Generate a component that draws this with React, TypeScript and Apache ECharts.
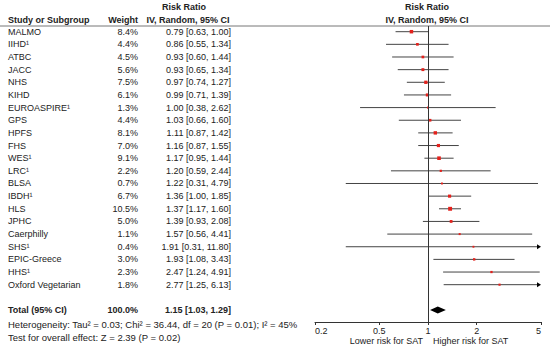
import React, { useEffect, useRef } from "react";
import * as echarts from "echarts";

const studies = [
  "MALMO", "IIHD¹", "ATBC", "JACC", "NHS", "KIHD", "EUROASPIRE¹", "GPS", "HPFS", "FHS",
  "WES¹", "LRC¹", "BLSA", "IBDH¹", "HLS", "JPHC", "Caerphilly", "SHS¹", "EPIC-Greece", "HHS¹",
  "Oxford Vegetarian",
];
const weights = [8.4, 4.4, 4.5, 5.6, 7.5, 6.1, 1.3, 4.4, 8.1, 7.0, 9.1, 2.2, 0.7, 6.7, 10.5, 5.0, 1.1, 0.4, 3.0, 2.3, 1.8];
const riskRatios = [0.79, 0.86, 0.93, 0.93, 0.97, 0.99, 1.0, 1.03, 1.11, 1.16, 1.17, 1.2, 1.22, 1.36, 1.37, 1.39, 1.57, 1.91, 1.93, 2.47, 2.77];
const lowerCI = [0.63, 0.55, 0.6, 0.65, 0.74, 0.71, 0.38, 0.66, 0.87, 0.87, 0.95, 0.59, 0.31, 1.0, 1.17, 0.93, 0.56, 0.31, 1.08, 1.24, 1.25];
const upperCI = [1.0, 1.34, 1.44, 1.34, 1.27, 1.39, 2.62, 1.6, 1.42, 1.55, 1.44, 2.44, 4.79, 1.85, 1.6, 2.08, 4.41, 11.8, 3.43, 4.91, 6.13];

const totalLabel = "Total (95% CI)";
const totalWeight = 100.0;
const totalRR = 1.15;
const totalLower = 1.03;
const totalUpper = 1.29;

const tickValues = [0.2, 0.5, 1, 2, 5];
const heterogeneityText = "Heterogeneity: Tau² = 0.03; Chi² = 36.44, df = 20 (P = 0.01); I² = 45%";
const overallEffectText = "Test for overall effect: Z = 2.39 (P = 0.02)";
const favoursLeft = "Lower risk for SAT";
const favoursRight = "Higher risk for SAT";
const headerTitle = "Risk Ratio";
const headerMethod = "IV, Random, 95% CI";
const headerStudy = "Study or Subgroup";
const headerWeight = "Weight";

const FONT = '"Liberation Sans", Arial, sans-serif';
const TEXT = "#222";
const X_MIN = Math.log10(tickValues[0]);
const X_MAX = Math.log10(tickValues[tickValues.length - 1]);
const TOTAL_ROW = studies.length + 1;

const f2 = (v: number) => v.toFixed(2);

const tableRows = [
  ...studies.map((name, i) => ({
    row: i,
    name,
    weight: weights[i].toFixed(1) + "%",
    ci: `${f2(riskRatios[i])} [${f2(lowerCI[i])}, ${f2(upperCI[i])}]`,
    bold: false,
  })),
  {
    row: TOTAL_ROW,
    name: totalLabel,
    weight: totalWeight.toFixed(1) + "%",
    ci: `${f2(totalRR)} [${f2(totalLower)}, ${f2(totalUpper)}]`,
    bold: true,
  },
];

export default function App() {
  const ref = useRef<HTMLDivElement>(null);

  useEffect(() => {
    if (!ref.current) return;
    const chart = echarts.init(ref.current, undefined, { renderer: "svg" });

    const txt = (x: number, y: number, text: string, align: string, bold = false, size = 9) => ({
      type: "text",
      x,
      y,
      style: {
        text,
        font: `${bold ? "bold " : ""}${size}px ${FONT}`,
        fill: TEXT,
        align,
        verticalAlign: "middle",
      },
      silent: true,
    });

    const option: any = {
      animation: false,
      backgroundColor: "#fff",
      grid: { left: 315, right: 9, top: 26, bottom: 32 },
      xAxis: {
        type: "value",
        min: X_MIN,
        max: X_MAX,
        position: "bottom",
        splitLine: { show: false },
        axisLine: { show: true, onZero: false, lineStyle: { color: "#333", width: 1 } },
        axisTick: {
          show: true,
          length: 3,
          customValues: tickValues.map((v) => Math.log10(v)),
          lineStyle: { color: "#333", width: 1 },
        },
        axisLabel: {
          show: true,
          customValues: tickValues.map((v) => Math.log10(v)),
          formatter: (v: number) => String(Number(Math.pow(10, v).toPrecision(2))),
          fontFamily: FONT,
          fontSize: 9,
          color: TEXT,
          margin: 4,
          alignMinLabel: "left",
          alignMaxLabel: "right",
        },
      },
      yAxis: {
        type: "value",
        inverse: true,
        min: -0.45,
        max: 22.95,
        show: false,
      },
      graphic: [
        {
          type: "line",
          shape: { x1: 0, y1: 26, x2: 550, y2: 26 },
          style: { stroke: "#777", lineWidth: 1 },
          silent: true,
        },
        txt(184, 7, headerTitle, "center", true),
        txt(188, 20, headerMethod, "center", true),
        txt(8, 20, headerStudy, "left", true),
        txt(138, 20, headerWeight, "right", true),
        txt(427, 7, headerTitle, "center", true),
        txt(427, 20, headerMethod, "center", true),
        txt(8, 324, heterogeneityText, "left", false, 9.5),
        txt(8, 337, overallEffectText, "left", false, 9.5),
        txt(423, 341, favoursLeft, "right"),
        txt(433, 341, favoursRight, "left"),
      ],
      series: [
        {
          type: "custom",
          name: "table",
          silent: true,
          data: tableRows.map((r) => [X_MIN, r.row]),
          renderItem: (params: any, api: any) => {
            const r = tableRows[params.dataIndex];
            const y = api.coord([X_MIN, api.value(1)])[1];
            return {
              type: "group",
              children: [
                txt(8, y, r.name, "left", r.bold),
                txt(138, y, r.weight, "right", r.bold),
                txt(231, y, r.ci, "right", r.bold),
              ],
            };
          },
        },
        {
          type: "custom",
          name: "studies",
          silent: true,
          data: studies.map((_, i) => [
            Math.log10(riskRatios[i]),
            i,
            Math.log10(lowerCI[i]),
            Math.log10(upperCI[i]),
            weights[i],
          ]),
          renderItem: (params: any, api: any) => {
            const cs = params.coordSys;
            const left = cs.x;
            const right = cs.x + cs.width;
            const row = api.value(1);
            const [xe, y] = api.coord([api.value(0), row]);
            const rawL = api.coord([api.value(2), row])[0];
            const rawR = api.coord([api.value(3), row])[0];
            const arrowR = rawR > right + 0.5;
            const arrowL = rawL < left - 0.5;
            const xl = Math.max(left, rawL);
            const xr = Math.min(right, rawR);
            const s = 1.8 + 0.2 * api.value(4);
            const children: any[] = [
              {
                type: "line",
                shape: { x1: arrowL ? xl + 3 : xl, y1: y, x2: arrowR ? xr - 3 : xr, y2: y },
                style: { stroke: "#444", lineWidth: 1 },
              },
            ];
            if (arrowR) {
              children.push({
                type: "polygon",
                shape: { points: [[right - 4, y - 2.5], [right, y], [right - 4, y + 2.5]] },
                style: { fill: "#000" },
              });
            }
            if (arrowL) {
              children.push({
                type: "polygon",
                shape: { points: [[left + 4, y - 2.5], [left, y], [left + 4, y + 2.5]] },
                style: { fill: "#000" },
              });
            }
            children.push({
              type: "rect",
              shape: { x: xe - s / 2, y: y - s / 2, width: s, height: s },
              style: { fill: "#e3211c" },
            });
            return { type: "group", children };
          },
          markLine: {
            silent: true,
            symbol: "none",
            label: { show: false },
            lineStyle: { color: "#333", width: 1, type: "solid" },
            data: [{ xAxis: 0 }],
          },
        },
        {
          type: "custom",
          name: "total",
          silent: true,
          data: [[Math.log10(totalRR), TOTAL_ROW, Math.log10(totalLower), Math.log10(totalUpper)]],
          renderItem: (params: any, api: any) => {
            const row = api.value(1);
            const [xc, y] = api.coord([api.value(0), row]);
            const xl = api.coord([api.value(2), row])[0];
            const xr = api.coord([api.value(3), row])[0];
            const h = 3.5;
            return {
              type: "polygon",
              shape: { points: [[xl, y], [xc, y - h], [xr, y], [xc, y + h]] },
              style: { fill: "#000" },
            };
          },
        },
      ],
    };

    chart.setOption(option);
    return () => chart.dispose();
  }, []);

  return (
    <div
      ref={ref}
      style={{ position: "fixed", left: 0, top: 0, width: 550, height: 354, background: "#fff" }}
    />
  );
}
